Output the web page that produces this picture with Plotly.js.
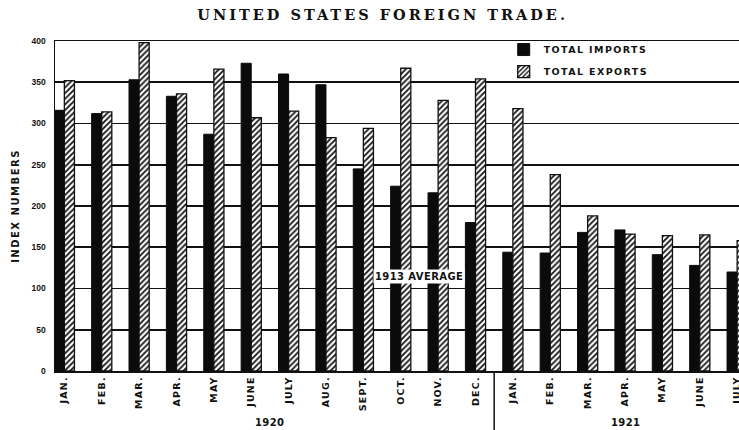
<!DOCTYPE html>
<html>
<head>
<meta charset="utf-8">
<script src="https://cdn.plot.ly/plotly-3.0.1.min.js"></script>
<style>
html,body{margin:0;padding:0;background:#fff;}
#chart{width:739px;height:430px;}
.gtitle{letter-spacing:3px;}
.legendtext{letter-spacing:1.4px;}
.xtick text{letter-spacing:1.2px;}
.ytitle{letter-spacing:1.5px;}
.annotation-text{letter-spacing:0.4px;}
</style>
</head>
<body>
<div id="chart"></div>
<script>
// ---- data ----
const categories = [
  '1920 JAN.','1920 FEB.','1920 MAR.','1920 APR.','1920 MAY','1920 JUNE',
  '1920 JULY','1920 AUG.','1920 SEPT.','1920 OCT.','1920 NOV.','1920 DEC.',
  '1921 JAN.','1921 FEB.','1921 MAR.','1921 APR.','1921 MAY','1921 JUNE','1921 JULY'
];
const monthLabels = [
  'JAN.','FEB.','MAR.','APR.','MAY','JUNE','JULY','AUG.','SEPT.','OCT.','NOV.','DEC.',
  'JAN.','FEB.','MAR.','APR.','MAY','JUNE','JULY'
];
const yearLabels = ['1920','1921'];
const totalImports = [316, 312, 353, 333, 287, 373, 360, 347, 245, 224, 216, 180,
                      144, 143, 168, 171, 141, 128, 120];
const totalExports = [352, 314, 398, 336, 366, 307, 315, 283, 294, 367, 328, 354,
                      318, 238, 188, 166, 164, 165, 158];
const yTickValues = [0, 50, 100, 150, 200, 250, 300, 350, 400];
const averageLabel = '1913 AVERAGE';

// ---- chart ----
const ink = '#111111';
const sansBold = {family: 'DejaVu Sans', weight: 'bold', color: ink};

const traces = [
  {
    type: 'bar', name: 'TOTAL IMPORTS', legendgroup: 'imp',
    x: categories, y: totalImports,
    marker: {color: '#0b0b0b', line: {color: '#0b0b0b', width: 1}},
    hoverinfo: 'skip'
  },
  {
    type: 'bar', name: 'TOTAL EXPORTS', legendgroup: 'exp',
    x: categories, y: totalExports,
    marker: {
      color: '#ffffff',
      line: {color: ink, width: 1.3},
      pattern: {shape: '/', fgcolor: ink, bgcolor: '#ffffff', size: 4, solidity: 0.45, fillmode: 'replace'}
    },
    hoverinfo: 'skip'
  }
];

const layout = {
  width: 739, height: 430,
  margin: {l: 55, r: 0, t: 41, b: 59, pad: 0},
  paper_bgcolor: '#ffffff', plot_bgcolor: '#ffffff',
  barmode: 'group', bargap: 0.46, bargroupgap: 0,
  showlegend: true,
  title: {
    text: 'UNITED STATES FOREIGN TRADE.',
    font: {family: 'DejaVu Serif', size: 14.5, weight: 'bold', color: ink},
    x: 0.479, xref: 'paper', xanchor: 'center',
    y: 0.965, yref: 'container', yanchor: 'middle'
  },
  xaxis: {
    type: 'category', range: [-0.25, 18.05],
    tickmode: 'array', tickvals: categories, ticktext: monthLabels,
    tickangle: -90, ticks: '', showgrid: false, zeroline: false,
    showline: true, mirror: true, linecolor: ink, linewidth: 1.5,
    tickfont: Object.assign({size: 9.5}, sansBold),
    automargin: false, fixedrange: true
  },
  yaxis: {
    range: [0, 400], tickmode: 'array', tickvals: yTickValues,
    showgrid: true, gridcolor: ink, gridwidth: 1.8, zeroline: false,
    showline: true, linecolor: ink, linewidth: 1.5,
    ticks: 'outside', ticklen: 6, tickcolor: 'rgba(0,0,0,0)',
    tickfont: {family: 'Liberation Sans', size: 8.5, weight: 'bold', color: ink},
    title: {text: 'INDEX NUMBERS', font: Object.assign({size: 10}, sansBold), standoff: 10},
    automargin: false, fixedrange: true
  },
  legend: {
    x: 0.656, y: 1.018, xanchor: 'left', yanchor: 'top',
    bgcolor: 'rgba(0,0,0,0)', borderwidth: 0,
    font: Object.assign({size: 9.5}, sansBold),
    traceorder: 'grouped', tracegroupgap: 3
  },
  annotations: [
    {text: averageLabel, x: 9.5, y: 114, xref: 'x', yref: 'y', showarrow: false,
     bgcolor: '#ffffff', borderpad: 1, font: Object.assign({size: 10}, sansBold)},
    {text: yearLabels[0], x: 5.5, y: -0.155, xref: 'x', yref: 'paper', showarrow: false,
     yanchor: 'middle', font: Object.assign({size: 10}, sansBold)},
    {text: yearLabels[1], x: 15, y: -0.155, xref: 'x', yref: 'paper', showarrow: false,
     yanchor: 'middle', font: Object.assign({size: 10}, sansBold)}
  ],
  shapes: [
    {type: 'line', xref: 'x', yref: 'paper', x0: 11.5, x1: 11.5, y0: 0, y1: -0.2,
     line: {color: ink, width: 1.5}}
  ]
};

Plotly.newPlot('chart', traces, layout, {displayModeBar: false, staticPlot: true});
</script>
</body>
</html>
